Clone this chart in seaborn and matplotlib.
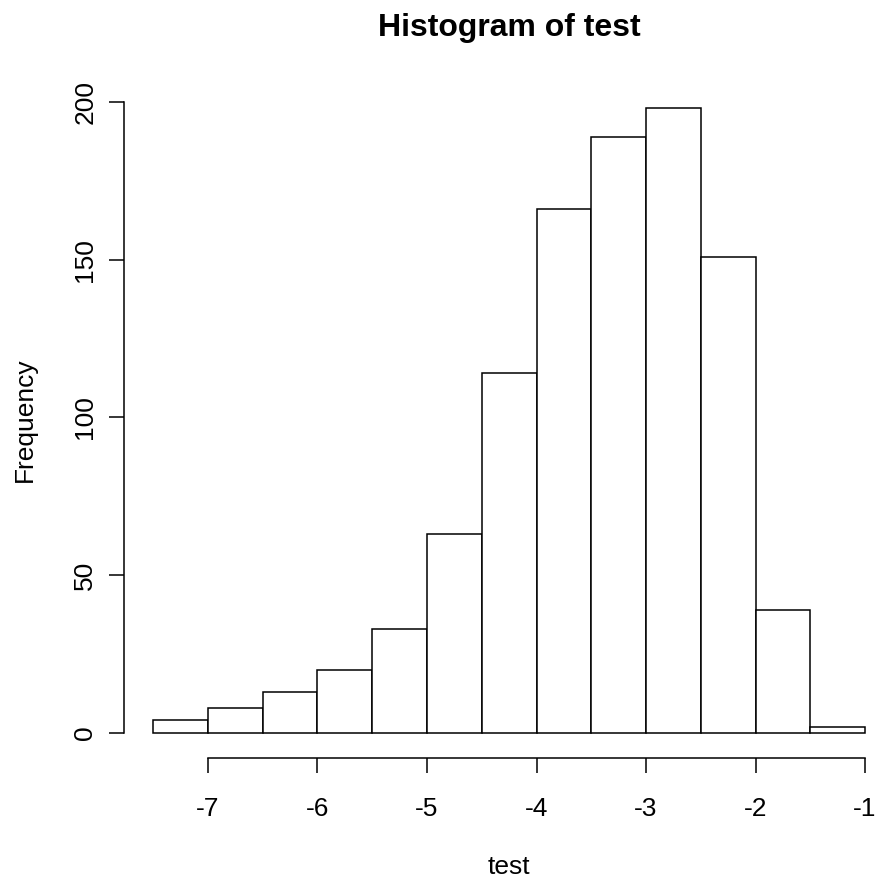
import matplotlib
matplotlib.use("Agg")
import matplotlib.pyplot as plt
import seaborn as sns

# ---- data ----
bin_edges = [-7.5, -7.0, -6.5, -6.0, -5.5, -5.0, -4.5, -4.0, -3.5, -3.0, -2.5, -2.0, -1.5, -1.0]
counts = [4, 8, 13, 20, 33, 63, 114, 166, 189, 198, 151, 39, 2]
x_ticks = [-7, -6, -5, -4, -3, -2, -1]
y_ticks = [0, 50, 100, 150, 200]
title = "Histogram of test"
x_label = "test"
y_label = "Frequency"

plt.rcParams["font.family"] = ["Liberation Sans", "DejaVu Sans"]

W, H = 875, 881
fig = plt.figure(figsize=(W / 100, H / 100), dpi=100)
left_px, right_px, bottom_px, top_px = 124, 875, 758, 83.3
ax = fig.add_axes([left_px / W, 1 - bottom_px / H, (right_px - left_px) / W, (bottom_px - top_px) / H])

centers = [(a + b) / 2 for a, b in zip(bin_edges[:-1], bin_edges[1:])]
sns.histplot(x=centers, weights=counts, bins=bin_edges, ax=ax,
             color="white", edgecolor="black", linewidth=1.1, alpha=1)

ax.set_xlim(-7.767, -0.909)
ax.set_ylim(-7.92, 205.92)

for s in ["top", "right"]:
    ax.spines[s].set_visible(False)
ax.spines["left"].set_bounds(0, 200)
ax.spines["bottom"].set_bounds(-7, -1)
for s in ["left", "bottom"]:
    ax.spines[s].set_linewidth(1.1)

fs = 19
ax.set_xticks(x_ticks)
ax.set_xticklabels([str(t) for t in x_ticks])
ax.set_yticks(y_ticks)
ax.set_yticklabels([str(t) for t in y_ticks], rotation=90, va="center")
ax.tick_params(axis="both", direction="out", length=10.8, width=1.1, labelsize=fs, colors="black")
ax.tick_params(axis="x", pad=17)
ax.tick_params(axis="y", pad=8.5)

ax.set_xlabel(x_label, fontsize=fs)
ax.set_ylabel(y_label, fontsize=fs)
ax.xaxis.set_label_coords((509 - left_px) / (right_px - left_px), -(866.5 - bottom_px) / (bottom_px - top_px))
ax.xaxis.label.set_va("center")
ax.yaxis.set_label_coords((25 - left_px) / (right_px - left_px), (bottom_px - 419.5) / (bottom_px - top_px))
ax.yaxis.label.set_va("center")

fig.text(509 / W, 1 - 28 / H, title, ha="center", va="center", fontsize=23, fontweight="bold")

fig.savefig("out.png", dpi=100, facecolor="white")
